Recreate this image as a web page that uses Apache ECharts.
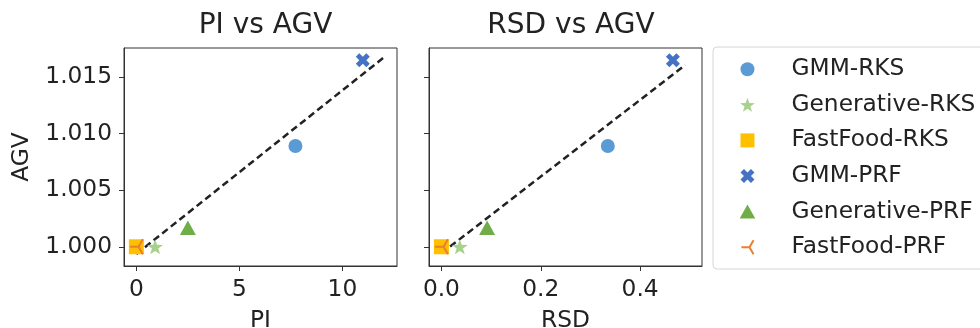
<!DOCTYPE html>
<html>
<head>
<meta charset="utf-8">
<script src="https://cdn.jsdelivr.net/npm/echarts@6/dist/echarts.min.js"></script>
<style>
  html, body { margin: 0; padding: 0; background: #fff; }
  #chart { width: 980px; height: 328px; }
</style>
</head>
<body>
<div id="chart"></div>
<script>
// values
const methods = ['GMM-RKS', 'Generative-RKS', 'FastFood-RKS', 'GMM-PRF', 'Generative-PRF', 'FastFood-PRF'];
const piValues = [7.72, 0.91, 0.0, 10.99, 2.5, 0.0];
const rsdValues = [0.335, 0.037, 0.0, 0.466, 0.092, 0.0];
const agvValues = [1.0089, 1.0000, 1.0000, 1.01648, 1.00168, 1.0000];

const piFitX = [0, 12.02];
const piFitY = [0.99936, 1.01674];
const rsdFitX = [0, 0.491];
const rsdFitY = [0.99942, 1.01606];

const agvTicks = [1.000, 1.005, 1.010, 1.015];
const piTicks = [0, 5, 10];
const rsdTicks = [0.0, 0.2, 0.4];

const colors = ['#5b9bd5', '#a9d18e', '#ffc000', '#4472c4', '#70ad47', '#ed7d31'];
const symbols = [
  'circle',
  'path://M0,-10 L2.35,-3.24 L9.51,-3.09 L3.8,1.24 L5.88,8.09 L0,4 L-5.88,8.09 L-3.8,1.24 L-9.51,-3.09 L-2.35,-3.24 Z',
  'path://M0,0 L10,0 L10,10 L0,10 Z',
  'path://M2,-4 L4,-2 L2,0 L4,2 L2,4 L0,2 L-2,4 L-4,2 L-2,0 L-4,-2 L-2,-4 L0,-2 Z',
  'path://M0,-10 L10,8 L-10,8 Z',
  'path://M0,0 L-10,0 M0,0 L5,-8.66 M0,0 L5,8.66'
];
const sizes = [14, 16, 15, 14, 16, 15];

const font = 'DejaVu Sans';
const ink = '#222';
const fs = 23.3;

const chart = echarts.init(document.getElementById('chart'));

const grids = [
  { left: 124, top: 48, width: 273, height: 218 },
  { left: 429, top: 48, width: 273, height: 218 }
];

function xAxisFor(idx, name, min, max, ticks, digits) {
  return {
    type: 'value', gridIndex: idx, min: min, max: max,
    name: name, nameLocation: 'middle', nameGap: 43,
    nameTextStyle: { fontFamily: font, fontSize: fs, color: ink },
    axisLine: { show: true, onZero: false, lineStyle: { color: '#333', width: 1 } },
    axisTick: { show: true, length: 5, lineStyle: { color: '#333' }, customValues: ticks },
    axisLabel: { fontFamily: font, fontSize: fs, color: ink, margin: 12, customValues: ticks,
      formatter: v => v.toFixed(digits) },
    splitLine: { show: false }
  };
}

function yAxisFor(idx, showLabels) {
  return {
    type: 'value', gridIndex: idx, min: 0.9983, max: 1.01756,
    name: showLabels ? 'AGV' : '', nameLocation: 'middle', nameGap: 91,
    nameTextStyle: { fontFamily: font, fontSize: fs, color: ink },
    axisLine: { show: true, onZero: false, lineStyle: { color: '#333', width: 1 } },
    axisTick: { show: true, length: 5, lineStyle: { color: '#333' }, customValues: agvTicks },
    axisLabel: { show: showLabels, fontFamily: font, fontSize: fs, color: ink, margin: 12,
      customValues: agvTicks, formatter: v => v.toFixed(3) },
    splitLine: { show: false }
  };
}

const series = [];
[piValues, rsdValues].forEach((xs, g) => {
  const fitX = g === 0 ? piFitX : rsdFitX;
  const fitY = g === 0 ? piFitY : rsdFitY;
  series.push({
    type: 'line', xAxisIndex: g, yAxisIndex: g, silent: true,
    data: fitX.map((x, i) => [x, fitY[i]]),
    showSymbol: false, symbol: 'none',
    lineStyle: { color: '#222', width: 2.5, type: [7, 4] },
    z: 1
  });
  methods.forEach((m, i) => {
    const isTri = i === 5;
    series.push({
      type: 'scatter', name: m, xAxisIndex: g, yAxisIndex: g,
      data: [[xs[i], agvValues[i]]],
      symbol: symbols[i], symbolSize: sizes[i], symbolKeepAspect: true,
      itemStyle: isTri
        ? { color: colors[i], borderColor: colors[i], borderWidth: 2, opacity: 1 }
        : { color: colors[i], opacity: 1 },
      z: 2 + i
    });
  });
});

chart.setOption({
  animation: false,
  title: [
    { text: 'PI vs AGV', left: 260.5, top: 7, textAlign: 'center',
      textStyle: { fontFamily: font, fontSize: 28, fontWeight: 'normal', color: ink } },
    { text: 'RSD vs AGV', left: 566, top: 7, textAlign: 'center',
      textStyle: { fontFamily: font, fontSize: 28, fontWeight: 'normal', color: ink } }
  ],
  grid: grids.map(g => Object.assign({
    show: true, borderColor: '#333', borderWidth: 1,
    containLabel: false, outerBoundsMode: 'none'
  }, g)),
  xAxis: [
    xAxisFor(0, 'PI', -0.6, 12.65, piTicks, 0),
    xAxisFor(1, 'RSD', -0.025, 0.5246, rsdTicks, 1)
  ],
  yAxis: [yAxisFor(0, true), yAxisFor(1, false)],
  graphic: [{
    type: 'rect', left: 712.5, top: 46.5,
    shape: { width: 300, height: 222, r: 4 },
    style: { fill: '#fff', stroke: '#d6d6d6', lineWidth: 1 },
    z: -1
  }],
  legend: {
    data: methods, left: 739.7, top: 57.7, orient: 'vertical',
    itemWidth: 78, itemHeight: 14, itemGap: 12.6, padding: 0,
    textStyle: { fontFamily: font, fontSize: fs, color: ink },
    selectedMode: false
  },
  series: series
});

window.onresize = () => chart.resize();
</script>
</body>
</html>
